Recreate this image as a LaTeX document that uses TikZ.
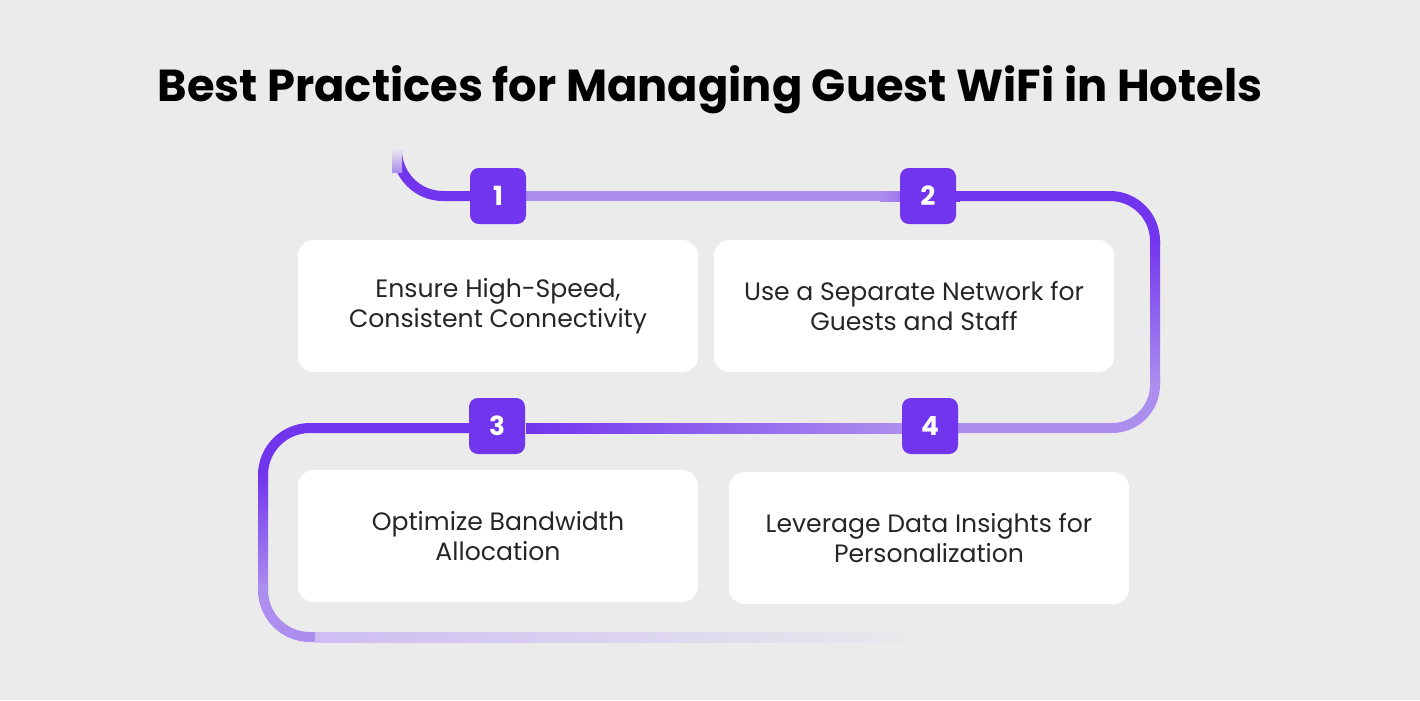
\documentclass[tikz,border=0pt]{standalone}
\usepackage{fontspec}
\setmainfont{Poppins}
\definecolor{bg}{HTML}{EBEBEB}
\definecolor{dk}{HTML}{7235EE}
\definecolor{lt}{HTML}{AC8EEE}
\definecolor{vl}{HTML}{CDBDF3}
\tikzset{
  badge/.style={fill=dk,rounded corners=5pt,minimum width=56*0.02cm,minimum height=56*0.02cm,text=white,font=\bfseries\fontsize{15}{15}\selectfont,inner sep=0},
  card/.style={fill=white,rounded corners=9pt,minimum width=400*0.02cm,minimum height=132*0.02cm,align=center,font=\fontsize{14.3}{17}\selectfont,text=black!85},
  seg/.style={line width=10*0.02cm}
}
\begin{document}
\begin{tikzpicture}[x=0.02cm,y=-0.02cm]
\fill[bg] (0,0) rectangle (1420,700);
\useasboundingbox (0,0) rectangle (1420,700);
\node[font=\fontsize{25.5}{30}\selectfont\bfseries] (title) at (710,90) {Best Practices for Managing Guest WiFi in Hotels};
% path
\draw[seg,dk,rounded corners=46*0.02cm] (397,157) |- (470,196);
\shade[top color=bg,bottom color=lt] (392,148) rectangle (402,172);
\draw[seg,lt] (526,196) -- (880,196);
\shade[left color=lt,right color=dk] (880,191) rectangle (960,201);
\draw[seg,dk,rounded corners=45*0.02cm] (955,196) -| (1155,245);
\shade[top color=dk,bottom color=lt] (1150,240) rectangle (1160,385);
\draw[seg,lt,rounded corners=43*0.02cm] (1155,380) |- (955,428);
\shade[left color=dk,right color=lt] (526,423) rectangle (902,433);
\draw[seg,dk,rounded corners=47*0.02cm] (470,428) -| (263,480);
\shade[top color=dk,bottom color=lt] (258,475) rectangle (268,590);
\draw[seg,lt,rounded corners=47*0.02cm] (263,585) |- (320,637);
\shade[left color=vl,right color=bg] (315,632) rectangle (935,642);
% badges
\node[badge] (b1) at (498,196) {1};
\node[badge] (b2) at (928,196) {2};
\node[badge] (b3) at (497,426) {3};
\node[badge] (b4) at (930,426) {4};
% cards
\node[card] (c1) at (498,306) {Ensure High-Speed,\\Consistent Connectivity};
\node[card] (c2) at (914,306) {Use a Separate Network for\\Guests and Staff};
\node[card] (c3) at (498,536) {Optimize Bandwidth\\Allocation};
\node[card] (c4) at (929,538) {Leverage Data Insights for\\Personalization};
\end{tikzpicture}
\end{document}
